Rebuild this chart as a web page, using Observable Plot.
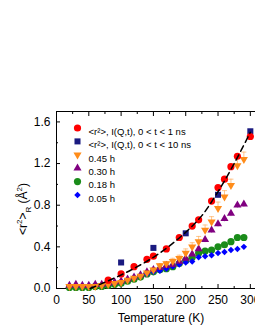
<!DOCTYPE html>
<html><head><meta charset="utf-8">
<script src="https://cdn.jsdelivr.net/npm/d3@7"></script>
<script src="https://cdn.jsdelivr.net/npm/@observablehq/plot@0.6"></script>
<style>
body{margin:0;background:#fff;}
#chart{width:255px;height:330px;}
svg{font-family:"Liberation Sans",Arial,sans-serif;}
</style>
</head><body><div id="chart"></div>
<script>
// ---- data ----
const seriesNames = ["<r²>, I(Q,t), 0 < t < 1 ns", "<r²>, I(Q,t), 0 < t < 10 ns", "0.45 h", "0.30 h", "0.18 h", "0.05 h"];
const seriesColors = ["#ff0000", "#1a1a80", "#ff8c1a", "#800080", "#1a8c1a", "#0000ff"];

const tempRed = [80,100,120,140,150,170,190,210,220,240,250,260,270,280,300];
const msdRed  = [0.08,0.14,0.21,0.28,0.31,0.38,0.49,0.60,0.66,0.84,0.97,1.05,1.17,1.27,1.46];

const tempNavy = [100,150,200,250,300];
const msdNavy  = [0.25,0.39,0.53,0.90,1.51];

const tempHyd = [20,30,40,50,60,70,80,90,100,110,120,130,140,150,160,170,180,190,200,210,220,230,240,250,260,270,280,290];
const msd045 = [0.02,0.02,0.02,0.02,0.02,0.03,0.04,0.05,0.06,0.08,0.10,0.12,0.15,0.18,0.22,0.24,0.26,0.29,0.34,0.40,0.45,0.56,0.64,0.77,0.88,0.99,1.18,1.24];
const err045 = [0.01,0.01,0.01,0.01,0.01,0.01,0.01,0.01,0.01,0.01,0.01,0.01,0.02,0.02,0.02,0.02,0.03,0.03,0.04,0.04,0.05,0.05,0.05,0.06,0.06,0.06,0.07,0.07];
const msd030 = [0.03,0.04,0.03,0.03,0.04,0.04,0.05,0.06,0.07,0.09,0.11,0.13,0.16,0.18,0.20,0.22,0.23,0.26,0.29,0.33,0.38,0.47,0.56,0.62,0.67,0.72,0.80,0.81];
const err030 = [0.01,0.01,0.01,0.01,0.01,0.01,0.01,0.01,0.01,0.01,0.01,0.01,0.01,0.01,0.02,0.02,0.02,0.02,0.02,0.02,0.03,0.03,0.03,0.03,0.03,0.03,0.03,0.03];
const msd018 = [0.01,0.01,0.01,0.01,0.02,0.02,0.03,0.04,0.05,0.07,0.09,0.11,0.14,0.16,0.18,0.19,0.21,0.24,0.27,0.30,0.34,0.36,0.37,0.40,0.42,0.45,0.49,0.49];
const msd005 = [0.02,0.02,0.02,0.02,0.03,0.03,0.04,0.05,0.06,0.08,0.10,0.12,0.14,0.16,0.17,0.19,0.21,0.23,0.25,0.26,0.30,0.31,0.32,0.34,0.35,0.37,0.38,0.40];

const fitTemp = [52,75,100,125,150,175,200,225,250,275,300];
const fitMsd  = [0.0,0.06,0.13,0.21,0.30,0.41,0.54,0.70,0.93,1.20,1.50];

const xMajorTicks = [0,50,100,150,200,250,300];
const xMinorTicks = [25,75,125,175,225,275];
const yMajorTicks = [0,0.4,0.8,1.2,1.6];
const yMinorTicks = [0.2,0.6,1.0,1.4];

// ---- build tables ----
const rows = (T, R, E) => T.map((t, i) => ({t, r: R[i], e: E ? E[i] : 0}));
const red = rows(tempRed, msdRed);
const navy = rows(tempNavy, msdNavy);
const h045 = rows(tempHyd, msd045, err045);
const h030 = rows(tempHyd, msd030, err030);
const h018 = rows(tempHyd, msd018);
const h005 = rows(tempHyd, msd005);
const fit = rows(fitTemp, fitMsd);

const triDown = {draw(ctx, size){
  const y = -Math.sqrt(size / (Math.sqrt(3) * 3));
  ctx.moveTo(0, -2*y); ctx.lineTo(-Math.sqrt(3)*y, y); ctx.lineTo(Math.sqrt(3)*y, y); ctx.closePath();
}};
const cap = {draw(ctx, size){ ctx.moveTo(-2.5,0); ctx.lineTo(2.5,0); }};

const symbols = ["circle","square",triDown,"triangle","circle","diamond2"];
const radii = [3.6, 3.4, 3.0, 3.0, 3.6, 2.9];

const legendMarks = [];
seriesNames.forEach((name, i) => {
  legendMarks.push(Plot.dot([0], {frameAnchor:"top-left", dx:21, dy:16.5 + i*13.4, symbol: symbols[i], r: radii[i], fill: seriesColors[i], stroke:"none"}));
  legendMarks.push(Plot.text([name], {frameAnchor:"top-left", dx:32, dy:16.5 + i*13.4, text: d => d, textAnchor:"start", fontSize: 9.5, fill:"#000"}));
});

const fmt = d3.format(".1f");
const chart = Plot.plot({
  width: 255, height: 330,
  marginLeft: 56, marginRight: 0, marginTop: 111, marginBottom: 42,
  style: {fontFamily: '"Liberation Sans", Arial, sans-serif', fontSize: "12px", background: "#fff"},
  x: {domain: [0, 308]},
  y: {domain: [0, 1.7]},
  marks: [
    Plot.axisX({anchor:"bottom", ticks: xMajorTicks, tickSize:-4, tickPadding: 11, label: null, fontSize: 12}),
    Plot.axisX({anchor:"bottom", ticks: xMinorTicks, tickSize:-2, tickFormat: () => "", label: null}),
    Plot.axisX({anchor:"top", ticks: xMajorTicks, tickSize:-4, tickFormat: () => "", label: null}),
    Plot.axisX({anchor:"top", ticks: xMinorTicks, tickSize:-2, tickFormat: () => "", label: null}),
    Plot.axisY({anchor:"left", ticks: yMajorTicks, tickSize:-4, tickPadding: 10, tickFormat: fmt, label: null, fontSize: 12}),
    Plot.axisY({anchor:"left", ticks: yMinorTicks, tickSize:-2, tickFormat: () => "", label: null}),
    Plot.frame({stroke:"#000", strokeWidth: 1}),
    // error bars
    Plot.ruleX(h030, {x:"t", y1: d => d.r - d.e, y2:"r", stroke:"#c080c0", strokeWidth: 0.8}),
    Plot.ruleX(h045, {x:"t", y1:"r", y2: d => d.r + d.e, stroke:"#ffb870", strokeWidth: 0.8}),
    Plot.dot(h045, {x:"t", y: d => d.r + d.e, symbol: cap, stroke:"#ffb870", strokeWidth: 0.8}),
    // series
    Plot.dot(h018, {x:"t", y:"r", symbol: symbols[4], r: radii[4], fill: seriesColors[4]}),
    Plot.dot(h005, {x:"t", y:"r", symbol: symbols[5], r: radii[5], fill: seriesColors[5]}),
    Plot.dot(h030, {x:"t", y:"r", symbol: symbols[3], r: radii[3], fill: seriesColors[3]}),
    Plot.dot(h045, {x:"t", y:"r", symbol: symbols[2], r: radii[2], fill: seriesColors[2]}),
    Plot.dot(navy, {x:"t", y:"r", symbol: symbols[1], r: radii[1], fill: seriesColors[1]}),
    Plot.dot(red, {x:"t", y:"r", symbol: symbols[0], r: radii[0], fill: seriesColors[0]}),
    Plot.line(fit, {x:"t", y:"r", curve:"catmull-rom", stroke:"#000", strokeWidth: 1.5, strokeDasharray:"6,4"}),
    ...legendMarks
  ]
});
document.getElementById("chart").appendChild(chart);

// axis titles with super/subscripts
const svg = d3.select(chart);
svg.append("text").attr("x", 161).attr("y", 322).attr("text-anchor","middle")
  .attr("font-size", 12).attr("fill","#000").text("Temperature (K)");
const yl = svg.append("text").attr("transform","translate(27,209) rotate(-90)")
  .attr("text-anchor","middle").attr("font-size", 12).attr("fill","#000");
yl.append("tspan").text("<r");
yl.append("tspan").attr("dy", -5).attr("font-size", 8).text("2");
yl.append("tspan").attr("dy", 5).text(">");
yl.append("tspan").attr("dy", 4).attr("font-size", 8).text("R");
yl.append("tspan").attr("dy", -4).text(" (Å");
yl.append("tspan").attr("dy", -5).attr("font-size", 8).text("2");
yl.append("tspan").attr("dy", 5).text(")");
</script>
</body></html>
